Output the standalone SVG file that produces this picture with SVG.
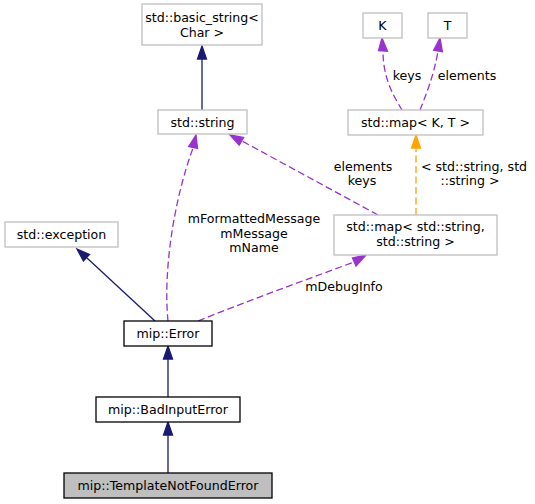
<svg xmlns="http://www.w3.org/2000/svg" width="535" height="504" viewBox="0 0 535 504">
<style>
.box{fill:#fff;stroke:#bfbfbf;stroke-width:1.3}
.doc{fill:#fff;stroke:#000;stroke-width:1.3}
.cur{fill:#bfbfbf;stroke:#000;stroke-width:1.3}
text{font-family:"DejaVu Sans","Liberation Sans",sans-serif;font-size:12.6px;fill:#000;text-anchor:middle}
.inh{fill:none;stroke:#191970;stroke-width:1.3}
.inhH{fill:#191970;stroke:#191970;stroke-width:1.3}
.use{fill:none;stroke:#9a32cd;stroke-width:1.3;stroke-dasharray:7,3.5}
.useH{fill:#9a32cd;stroke:#9a32cd;stroke-width:1.3}
.tpl{fill:none;stroke:#ffa500;stroke-width:1.3;stroke-dasharray:7,3.5}
.tplH{fill:#ffa500;stroke:#ffa500;stroke-width:1.3}
</style>
<rect width="535" height="504" fill="#fff"/>
<g id="edges">
  <!-- basic_string <- string -->
  <path class="inh" d="M202,110 L202,59"/>
  <polygon class="inhH" points="202,46 197.5,59 206.5,59"/>
  <!-- exception <- Error -->
  <path class="inh" d="M155,321 L87,258"/>
  <polygon class="inhH" points="77,249 89.5,254.4 83.4,261"/>
  <!-- Error <- BadInputError -->
  <path class="inh" d="M168,397 L168,359"/>
  <polygon class="inhH" points="168,346 163.5,359 172.5,359"/>
  <!-- BadInputError <- TNF -->
  <path class="inh" d="M168,473 L168,435"/>
  <polygon class="inhH" points="168,422 163.5,435 172.5,435"/>
  <!-- string <- Error (members) -->
  <path class="use" d="M168,321 C163,270 174,200 193,148"/>
  <polygon class="useH" points="196,135 197.5,148.5 188.7,146.5"/>
  <!-- string <- map<string,string> -->
  <path class="use" d="M378,215 L242,141"/>
  <polygon class="useH" points="230,135 243.6,137.4 239.2,145.2"/>
  <!-- map<string,string> <- Error -->
  <path class="use" d="M198,321 C250,300 300,282 354,262"/>
  <polygon class="useH" points="366,255 356,266 352.5,258"/>
  <!-- map<K,T> <- map<string,string> -->
  <path class="tpl" d="M416,215 L416,148"/>
  <polygon class="tplH" points="416,135 411.5,148 420.5,148"/>
  <!-- K <- map<K,T> -->
  <path class="use" d="M402,110 C395,98 383,80 383,51"/>
  <polygon class="useH" points="382,38 378.5,50.7 387.5,51.3"/>
  <!-- T <- map<K,T> -->
  <path class="use" d="M420,110 C426,95 434,75 438,51"/>
  <polygon class="useH" points="440,38 433.6,50.3 442.4,51.7"/>
  <!-- labels -->
  <text x="363" y="171">elements</text>
  <text x="362" y="185">keys</text>
  <text x="474" y="171">&lt; std::string, std</text>
  <text x="470" y="185">::string &gt;</text>
  <text x="254" y="223">mFormattedMessage</text>
  <text x="254" y="238">mMessage</text>
  <text x="254" y="252">mName</text>
  <text x="344" y="291">mDebugInfo</text>
  <text x="407" y="80">keys</text>
  <text x="467" y="80">elements</text>
</g>
<g id="basic_string">
  <rect class="box" x="142" y="4" width="120" height="41"/>
  <text x="202" y="22">std::basic_string&lt;</text>
  <text x="202" y="37">Char &gt;</text>
</g>
<g id="string">
  <rect class="box" x="158" y="110" width="89" height="24"/>
  <text x="202.5" y="126.5">std::string</text>
</g>
<g id="K">
  <rect class="box" x="363" y="13" width="39" height="25"/>
  <text x="382.5" y="30">K</text>
</g>
<g id="T">
  <rect class="box" x="428" y="13" width="39" height="25"/>
  <text x="447.5" y="30">T</text>
</g>
<g id="mapKT">
  <rect class="box" x="348" y="110" width="135" height="25"/>
  <text x="415.5" y="127">std::map&lt; K, T &gt;</text>
</g>
<g id="mapSS">
  <rect class="box" x="334" y="215" width="163" height="40"/>
  <text x="415.5" y="231">std::map&lt; std::string,</text>
  <text x="415.5" y="246">std::string &gt;</text>
</g>
<g id="exception">
  <rect class="box" x="5" y="222" width="113" height="25"/>
  <text x="61.5" y="239">std::exception</text>
</g>
<g id="Error">
  <rect class="doc" x="124" y="321" width="88" height="25"/>
  <text x="168" y="338">mip::Error</text>
</g>
<g id="BadInputError">
  <rect class="doc" x="96" y="397" width="144" height="25"/>
  <text x="168" y="414">mip::BadInputError</text>
</g>
<g id="TemplateNotFoundError">
  <rect class="cur" x="64" y="473" width="208" height="25"/>
  <text x="168" y="490">mip::TemplateNotFoundError</text>
</g>
</svg>
